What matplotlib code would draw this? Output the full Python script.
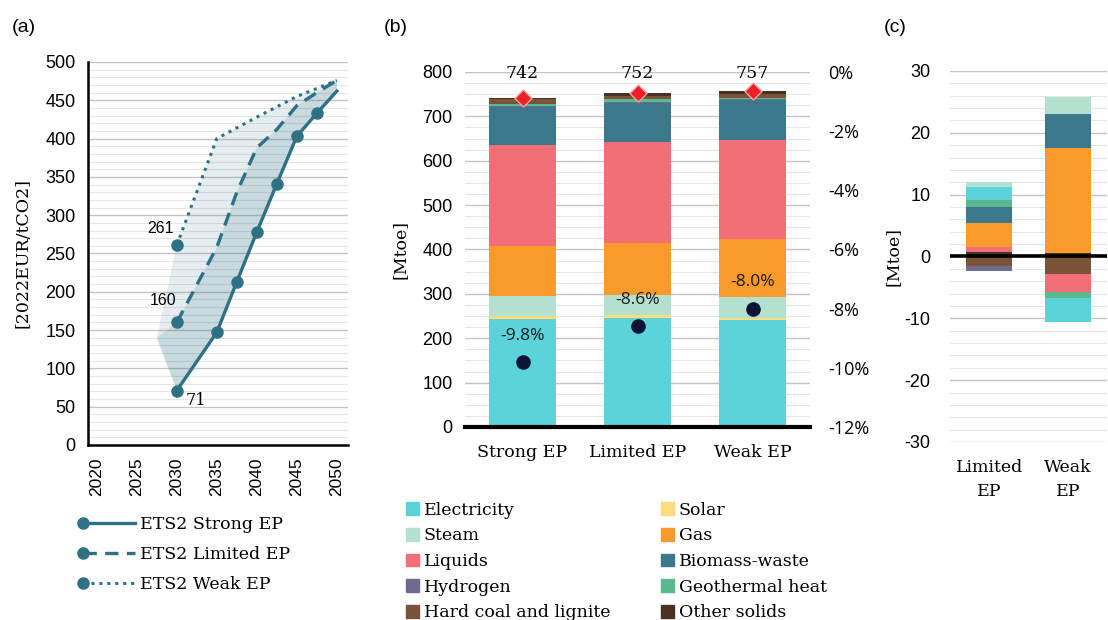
import numpy as np
import matplotlib.pyplot as plt
from matplotlib.lines import Line2D
from matplotlib.patches import Patch
from matplotlib.legend_handler import HandlerLine2D
from matplotlib.ticker import MultipleLocator, FuncFormatter

plt.rcParams['axes.unicode_minus'] = False

SERIF = 'DejaVu Serif'
SANS = 'Liberation Sans'
TEAL = '#2f7184'

# ---- (a) ETS2 carbon price [2022EUR/tCO2]
years_strong = [2030, 2035, 2037.5, 2040, 2042.5, 2045, 2047.5, 2050]
price_strong = [71, 147, 213, 278, 341, 403, 433, 462]
years_limited = [2030, 2035, 2037.5, 2040, 2042.5, 2045, 2047.5, 2050]
price_limited = [160, 258, 330, 388, 412, 443, 460, 476]
years_weak = [2030, 2035, 2040, 2045, 2050]
price_weak = [261, 400, 428, 455, 476]
fill_corner_year = 2027.5
fill_corner_price = 140
year_ticks = [2020, 2025, 2030, 2035, 2040, 2045, 2050]

# ---- (b) final energy demand 2030 [Mtoe]
scenarios = ['Strong EP', 'Limited EP', 'Weak EP']
electricity = [244, 246, 242]
solar = [5, 6, 4]
steam = [46, 45, 47]
gas = [112, 118, 130]
liquids = [229, 227, 224]
biomass = [84, 88, 89]
hydrogen = [4, 3, 3]
geothermal = [4, 5, 3]
hard_coal = [10, 8, 9]
other_solids = [4, 6, 6]
pct_change = [-9.8, -8.6, -8.0]

# ---- (c) difference to Strong EP [Mtoe]
diff_scenarios = ['Limited\nEP', 'Weak\nEP']
d_other_solids = [0.7, 0.5]
d_hard_coal = [-1.6, -2.8]
d_liquids = [0.8, -3.0]
d_hydrogen = [-0.7, 0.0]
d_gas = [3.9, 17.1]
d_biomass = [2.6, 5.5]
d_geothermal = [1.1, -0.9]
d_electricity = [2.1, -3.9]
d_steam = [0.8, 2.7]

colors = {
    'Electricity': '#5ad3db',
    'Solar': '#fcdc7c',
    'Steam': '#b3e0cf',
    'Gas': '#f99a2a',
    'Liquids': '#f26f78',
    'Biomass-waste': '#3b788b',
    'Hydrogen': '#6f6b8f',
    'Geothermal heat': '#5bb98f',
    'Hard coal and lignite': '#785338',
    'Other solids': '#4a3222',
}


class LeftMarkerHandler(HandlerLine2D):
    # legend line with the marker only at its left end
    def create_artists(self, *args, **kwargs):
        artists = super().create_artists(*args, **kwargs)
        for a in artists:
            a.set_markevery([0])
        return artists


fig = plt.figure(figsize=(11.08, 6.2), dpi=100)
ax_a = fig.add_axes([0.0794, 0.2823, 0.2347, 0.6177])
ax_b = fig.add_axes([0.4197, 0.3113, 0.3114, 0.5726])
ax_c = fig.add_axes([0.8574, 0.2871, 0.1417, 0.5984])


def style_grid(ax, major, minor):
    ax.yaxis.set_major_locator(MultipleLocator(major))
    ax.yaxis.set_minor_locator(MultipleLocator(minor))
    ax.grid(axis='y', which='major', color='#c4c4c4', lw=1.0, zorder=0)
    ax.grid(axis='y', which='minor', color='#e6e6e6', lw=0.8, zorder=0)
    ax.set_axisbelow(True)
    ax.tick_params(which='both', length=0)
    for s in ax.spines.values():
        s.set_visible(False)


# ---------------- panel (a)
style_grid(ax_a, 50, 10)
ax_a.spines['left'].set_visible(True)
ax_a.spines['bottom'].set_visible(True)
ax_a.spines['left'].set_linewidth(1.8)
ax_a.spines['bottom'].set_linewidth(1.8)

poly_light_x = years_weak + years_limited[::-1] + [fill_corner_year]
poly_light_y = price_weak + price_limited[::-1] + [fill_corner_price]
poly_dark_x = years_limited + years_strong[::-1] + [fill_corner_year]
poly_dark_y = price_limited + price_strong[::-1] + [fill_corner_price]
ax_a.fill(poly_light_x, poly_light_y, color=TEAL, alpha=0.12, lw=0, zorder=1)
ax_a.fill(poly_dark_x, poly_dark_y, color=TEAL, alpha=0.26, lw=0, zorder=1)

ax_a.plot(years_strong, price_strong, color=TEAL, lw=2.4, marker='o', ms=8,
          markevery=list(range(len(years_strong) - 1)), zorder=3)
ax_a.plot(years_limited, price_limited, color=TEAL, lw=2.4, ls=(0, (4, 2.5)),
          marker='o', ms=8, markevery=[0], zorder=3)
ax_a.plot(years_weak, price_weak, color=TEAL, lw=2.2, ls=(0, (1, 1.6)),
          marker='o', ms=8, markevery=[0], zorder=3)

ax_a.annotate(f'{price_weak[0]}', (years_weak[0], price_weak[0]), xytext=(-12, 12),
              textcoords='offset points', ha='center', va='center',
              fontsize=11.5, family=SANS)
ax_a.annotate(f'{price_limited[0]}', (years_limited[0], price_limited[0]), xytext=(-10, 16),
              textcoords='offset points', ha='center', va='center',
              fontsize=11.5, family=SANS)
ax_a.annotate(f'{price_strong[0]}', (years_strong[0], price_strong[0]), xytext=(14, -7),
              textcoords='offset points', ha='center', va='center',
              fontsize=11.5, family=SERIF)

ax_a.set_xlim(2018.9, 2051.4)
ax_a.set_ylim(0, 500)
ax_a.set_xticks(year_ticks)
ax_a.set_xticklabels([str(y) for y in year_ticks], rotation=90, fontsize=12.5, family=SANS)
ax_a.tick_params(axis='x', pad=9)
ax_a.tick_params(axis='y', labelsize=13, pad=9)
for t in ax_a.get_yticklabels():
    t.set_family(SANS)
ax_a.set_ylabel('[2022EUR/tCO2]', family=SERIF, fontsize=12.5, labelpad=10)

leg_a = [
    Line2D([0, 1], [0, 0], color=TEAL, lw=2.4, marker='o', ms=8),
    Line2D([0, 1], [0, 0], color=TEAL, lw=2.4, ls=(0, (4, 2.5)), marker='o', ms=8),
    Line2D([0, 1], [0, 0], color=TEAL, lw=2.2, ls=(0, (1, 1.6)), marker='o', ms=8),
]
ax_a.legend(leg_a, ['ETS2 Strong EP', 'ETS2 Limited EP', 'ETS2 Weak EP'],
            loc='upper left', bbox_to_anchor=(-0.10, -0.145), frameon=False,
            numpoints=2, handlelength=3.6, handletextpad=0.0, labelspacing=0.75,
            handler_map={Line2D: LeftMarkerHandler()},
            prop={'family': SERIF, 'size': 12.5})

# ---------------- panel (b)
style_grid(ax_b, 100, 25)
series_b = [
    ('Electricity', electricity), ('Solar', solar), ('Steam', steam), ('Gas', gas),
    ('Liquids', liquids), ('Biomass-waste', biomass), ('Hydrogen', hydrogen),
    ('Geothermal heat', geothermal), ('Hard coal and lignite', hard_coal),
    ('Other solids', other_solids),
]
x = np.arange(len(scenarios))
bottom = np.zeros(len(scenarios))
for name, vals in series_b:
    ax_b.bar(x, vals, 0.59, bottom=bottom, color=colors[name], lw=0, zorder=2)
    bottom += np.array(vals)
totals = bottom

ax_b.scatter(x, totals, marker='D', s=75, color='#ec2027', edgecolor='#f7a0a0',
             lw=1, zorder=5)
for xi, tot in zip(x, totals):
    ax_b.text(xi, 796, f'{tot:.0f}', ha='center', va='center', fontsize=12.5,
              family=SERIF, zorder=6)

ax_b.set_xlim(-0.5, 2.5)
ax_b.set_ylim(0, 800)
ax_b.spines['bottom'].set_visible(True)
ax_b.spines['bottom'].set_linewidth(3)
ax_b.spines['bottom'].set_zorder(4)
ax_b.set_xticks(x)
ax_b.set_xticklabels(scenarios, family=SERIF, fontsize=12.5)
ax_b.tick_params(axis='x', pad=12)
ax_b.tick_params(axis='y', labelsize=13, pad=9)
for t in ax_b.get_yticklabels():
    t.set_family(SANS)
ax_b.set_ylabel('[Mtoe]', family=SERIF, fontsize=12.5, labelpad=10)

ax_b2 = ax_b.twinx()
ax_b2.set_ylim(-12, 0)
ax_b2.yaxis.set_major_locator(MultipleLocator(2))
ax_b2.yaxis.set_major_formatter(FuncFormatter(lambda v, p: f'{v:.0f}%'))
ax_b2.tick_params(length=0, labelsize=13, pad=13)
for t in ax_b2.get_yticklabels():
    t.set_family('Open Sans')
for s in ax_b2.spines.values():
    s.set_visible(False)
ax_b2.scatter(x, pct_change, s=90, color='#0b1636', zorder=5)
for xi, p in zip(x, pct_change):
    ax_b2.annotate(f'{p:.1f}%', (xi, p), xytext=(0, 19), textcoords='offset points',
                   ha='center', va='center', fontsize=12.5, family='Open Sans',
                   color='#1a1a1a')

leg_order = ['Electricity', 'Steam', 'Liquids', 'Hydrogen', 'Hard coal and lignite',
             'Solar', 'Gas', 'Biomass-waste', 'Geothermal heat', 'Other solids']
leg_b = [Patch(color=colors[n]) for n in leg_order]
fig.legend(leg_b, leg_order, loc='upper left', bbox_to_anchor=(0.352, 0.216),
           ncol=2, frameon=False, handlelength=0.75, handleheight=0.75,
           handletextpad=0.3, labelspacing=0.5, columnspacing=2.9,
           prop={'family': SERIF, 'size': 12.5})

# ---------------- panel (c)
style_grid(ax_c, 10, 2)
series_c = [
    ('Other solids', d_other_solids), ('Hard coal and lignite', d_hard_coal),
    ('Liquids', d_liquids), ('Hydrogen', d_hydrogen), ('Gas', d_gas),
    ('Biomass-waste', d_biomass), ('Geothermal heat', d_geothermal),
    ('Electricity', d_electricity), ('Steam', d_steam),
]
xc = np.arange(len(diff_scenarios))
pos = np.zeros(len(xc))
neg = np.zeros(len(xc))
for name, vals in series_c:
    v = np.array(vals)
    b = np.where(v >= 0, pos, neg)
    ax_c.bar(xc, v, 0.58, bottom=b, color=colors[name], lw=0, zorder=2)
    pos += np.where(v >= 0, v, 0)
    neg += np.where(v < 0, v, 0)
ax_c.axhline(0, color='black', lw=2.6, zorder=4)
ax_c.set_xlim(-0.5, 1.5)
ax_c.set_ylim(-30, 30)
ax_c.set_xticks(xc)
ax_c.set_xticklabels(diff_scenarios, family=SERIF, fontsize=12.5, linespacing=1.6)
ax_c.tick_params(axis='x', pad=12)
ax_c.tick_params(axis='y', labelsize=13, pad=14)
for t in ax_c.get_yticklabels():
    t.set_family(SANS)
ax_c.set_ylabel('[Mtoe]', family=SERIF, fontsize=12.5, labelpad=2)

# panel letters
fig.text(0.011, 0.956, '(a)', fontsize=14, family=SANS, va='center')
fig.text(0.346, 0.956, '(b)', fontsize=14, family=SANS, va='center')
fig.text(0.798, 0.956, '(c)', fontsize=14, family=SANS, va='center')

fig.savefig('out.png', dpi=100)
